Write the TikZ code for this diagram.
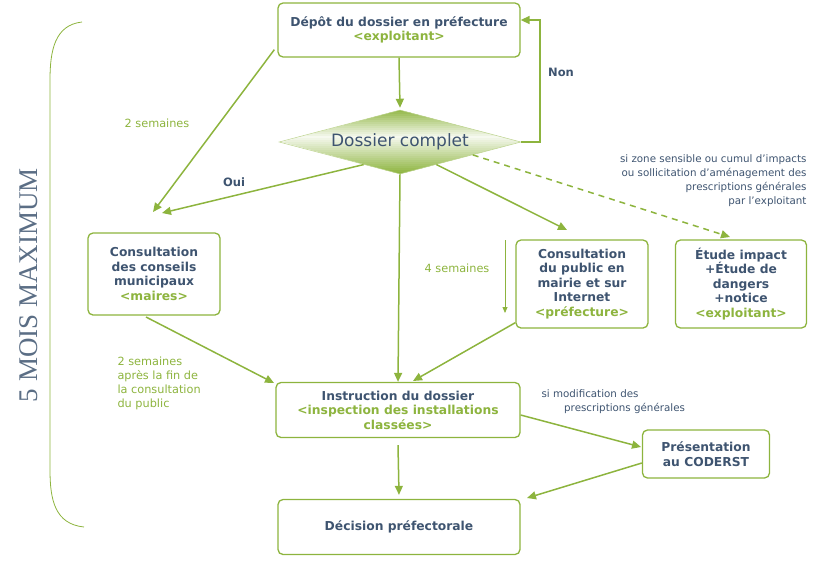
\documentclass[tikz,border=0pt]{standalone}
\usepackage{fontspec}
\setmainfont{DejaVu Sans}
\newfontfamily\serifmois{Liberation Serif}
\usetikzlibrary{arrows.meta,shapes.geometric,calc}
\definecolor{gr}{HTML}{8DB43E}
\definecolor{txt}{HTML}{3E5470}
\begin{document}
\begin{tikzpicture}[x=1pt,y=-1pt,
  box/.style={draw=gr,line width=1.3pt,rounded corners=5pt,fill=white,align=center,
    font=\fontsize{12.3}{14.5}\selectfont\bfseries,text=txt,inner sep=3pt},
  arr/.style={draw=gr,line width=1.5pt,-{Triangle[length=9pt,width=8pt]}},
  lab/.style={font=\fontsize{11.3}{14}\selectfont,text=gr,align=left},
  note/.style={font=\fontsize{10.3}{14}\selectfont,text=txt},
  sub/.style={text=gr}]
\useasboundingbox (0,0) rectangle (821,563);
\node[box,minimum width=242pt,minimum height=54pt] (dep) at (399,30) {Dépôt du dossier en préfecture\\{\color{gr}<exploitant>}};
\begin{scope}
\clip (282,142) -- (400,110) -- (520,142) -- (400,174) -- cycle;
\foreach \i in {0,...,31}{
  \pgfmathsetmacro{\pc}{abs(\i-13)<1 ? 8 : (\i<13 ? 8+ (13-\i)*6.5 : 8+(\i-13)*5)}
  \fill[gr!\pc!white] (280,110+\i*2) rectangle (522,112.6+\i*2);
}
\end{scope}
\node[diamond,draw=gr!60,line width=0.5pt,aspect=4,minimum width=242pt,minimum height=64pt,inner sep=0pt,
  font=\fontsize{17}{19}\selectfont,text=txt] (dc) at (400,142) {Dossier complet};
\node[box,minimum width=132pt,minimum height=82pt] (cm) at (154,274) {Consultation\\des conseils\\municipaux\\{\color{gr}<maires>}};
\node[box,minimum width=132pt,minimum height=88pt] (cp) at (582,284) {Consultation\\du public en\\mairie et sur\\Internet\\{\color{gr}<préfecture>}};
\node[box,minimum width=131pt,minimum height=88pt] (ei) at (741,284) {Étude impact\\+Étude de\\dangers\\+notice\\{\color{gr}<exploitant>}};
\node[box,minimum width=244pt,minimum height=55pt] (in) at (398,410) {Instruction du dossier\\{\color{gr}<inspection des installations}\\{\color{gr}classées>}};
\node[box,minimum width=127pt,minimum height=48pt] (pr) at (706,454) {Présentation\\au CODERST};
\node[box,minimum width=242pt,minimum height=55pt] (de) at (399,527) {Décision préfectorale};

\draw[arr] (dep.south) -- ($(dc.north)+(0,-2)$);
\draw[arr] (dc.east) -- (540,142) -- (540,20) -- (dep.east |- 0,20);
\node[font=\fontsize{11.5}{13}\selectfont\bfseries,text=txt] (non) at (561,72) {Non};
\draw[arr] (dep.south west) ++(-3,-8) coordinate (d1) -- (153,212);
\node[lab] (l2s) at (157,123) {2 semaines};
\draw[arr] ($(dc.west)!0.7!(dc.south)$) -- (162,213);
\node[font=\fontsize{11.5}{13}\selectfont\bfseries,text=txt] (oui) at (234,182) {Oui};
\draw[arr] (dc.south) -- (in.north);
\draw[arr] ($(dc.east)!0.7!(dc.south)$) -- (567,230);
\draw[arr,dashed,dash pattern=on 6pt off 5pt] ($(dc.east)!0.4!(dc.south)$) -- (730,237);
\node[note,align=right,anchor=north east] (zone) at (810,151) {si zone sensible ou cumul d'impacts\\ou sollicitation d'aménagement des\\prescriptions générales\\par l'exploitant};
\coordinate (s4a) at (505,240); \coordinate (s4b) at (505,313);
\draw[draw=gr,line width=0.8pt,-{Triangle[length=6pt,width=5pt]}] (s4a) -- (s4b);
\node[lab] (l4s) at (457,268) {4 semaines};
\draw[arr] (146,317) -- (274,383);
\node[lab,anchor=north west] (l2b) at (114,353) {2 semaines\\après la fin de\\la consultation\\du public};
\draw[arr] (cp.south west) ++(0,-6) -- (413,381);
\draw[arr] (in.east) ++(0,5) -- (641,447);
\node[note,anchor=north west,align=left] (mod) at (538,386) {si modification des\\\hspace*{2.2em}prescriptions générales};
\draw[arr] ($(pr.west)+(0,9)$) -- (527,498);
\draw[arr] (in.south) ++(0,7) -- ($(de.north)+(0,-4)$);

\draw[gr,line width=0.8pt] (82,22) .. controls (55,25) and (50,50) .. (50,80) -- (50,470) .. controls (50,500) and (55,524) .. (84,527);
\node[rotate=90,font=\fontsize{27}{30}\selectfont\serifmois,text=txt!85] (mois) at (29,285) {5 MOIS MAXIMUM};
\end{tikzpicture}
\end{document}
